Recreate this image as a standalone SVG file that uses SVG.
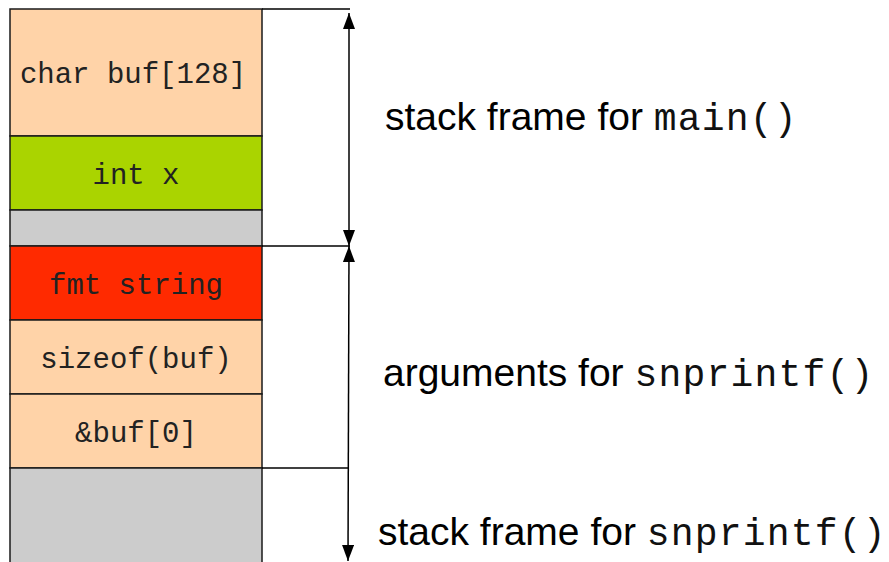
<svg xmlns="http://www.w3.org/2000/svg" width="889" height="562" viewBox="0 0 889 562">
<defs>
<style>
.cell{stroke:#1a1a1a;stroke-width:1.5}
.peach{fill:#ffd3a8}
.green{fill:#aad400}
.red{fill:#ff2a00}
.grey{fill:#cccccc}
.mono{font-family:"Liberation Mono","Courier New",monospace;font-size:29px;fill:#222;text-anchor:middle}
.lbl{font-family:"Liberation Sans",Arial,sans-serif;font-size:39px;fill:#000}
.lblm{font-family:"Liberation Mono","Courier New",monospace;font-size:38px;fill:#111;letter-spacing:1.2px}
.ln{stroke:#000;stroke-width:1.5;fill:none}
</style>
<marker id="arr" viewBox="0 0 16 12" refX="16" refY="6" markerWidth="16" markerHeight="12" markerUnits="userSpaceOnUse" orient="auto-start-reverse">
<path d="M0,0 L16,6 L0,12 Z" fill="#000"/>
</marker>
</defs>
<rect width="889" height="562" fill="#fff"/>
<g id="buf"><rect class="cell peach" x="10" y="9" width="252" height="127"/><text class="mono" x="133" y="83">char buf[128]</text></g>
<g id="intx"><rect class="cell green" x="10" y="136" width="252" height="74"/><text class="mono" x="136" y="184">int x</text></g>
<g id="pad1"><rect class="cell grey" x="10" y="210" width="252" height="36"/></g>
<g id="fmt"><rect class="cell red" x="10" y="246" width="252" height="74"/><text class="mono" x="136" y="294">fmt string</text></g>
<g id="sizeof"><rect class="cell peach" x="10" y="320" width="252" height="74"/><text class="mono" x="136" y="368">sizeof(buf)</text></g>
<g id="bufaddr"><rect class="cell peach" x="10" y="394" width="252" height="74"/><text class="mono" x="136" y="442">&amp;buf[0]</text></g>
<g id="snframe"><rect class="cell grey" x="10" y="468" width="252" height="110"/></g>
<g id="connectors">
<line class="ln" x1="262" y1="9" x2="350" y2="9"/>
<line class="ln" x1="262" y1="246" x2="350" y2="246"/>
<line class="ln" x1="262" y1="468" x2="348" y2="468"/>
<line class="ln" x1="349" y1="13" x2="349" y2="246" marker-start="url(#arr)" marker-end="url(#arr)"/>
<line class="ln" x1="349" y1="246" x2="348" y2="561" marker-start="url(#arr)" marker-end="url(#arr)"/>
</g>
<g id="label-main"><text class="lbl" x="385" y="130">stack frame for <tspan class="lblm">main()</tspan></text></g>
<g id="label-args"><text class="lbl" x="383" y="386">arguments for <tspan class="lblm">snprintf()</tspan></text></g>
<g id="label-snframe"><text class="lbl" x="378" y="545">stack frame for <tspan class="lblm">snprintf()</tspan></text></g>
</svg>
